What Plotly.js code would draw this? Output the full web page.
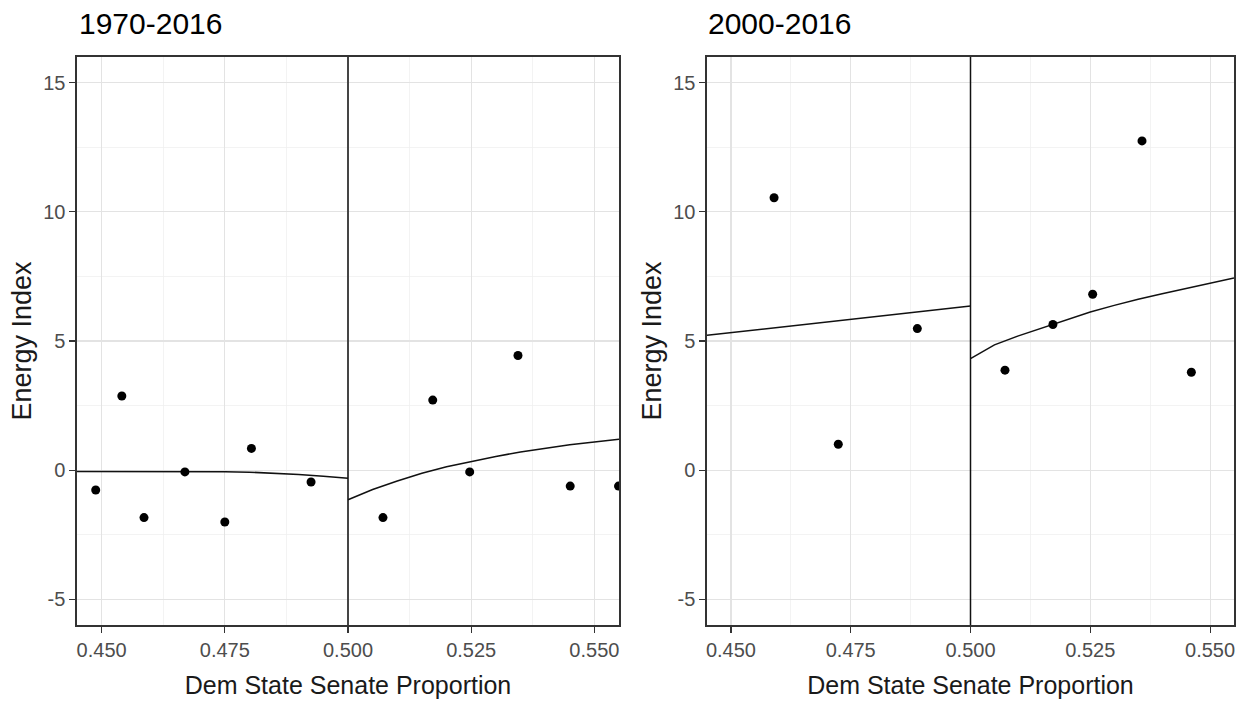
<!DOCTYPE html>
<html>
<head>
<meta charset="utf-8">
<script src="https://cdn.plot.ly/plotly-3.0.1.min.js"></script>
<style>
  html, body { margin: 0; padding: 0; background: #ffffff; }
  #chart { width: 1244px; height: 704px; }
</style>
</head>
<body>
<div id="chart"></div>
<script>
// Binned means of the energy index by Democratic state senate seat share
const panelTitles = ["1970-2016", "2000-2016"];
const xTitle = "Dem State Senate Proportion";
const yTitle = "Energy Index";
const xTickVals = [0.450, 0.475, 0.500, 0.525, 0.550];
const xTickText = ["0.450", "0.475", "0.500", "0.525", "0.550"];
const xMinorVals = [0.4375, 0.4625, 0.4875, 0.5125, 0.5375, 0.5625];
const yTickVals = [-5, 0, 5, 10, 15];
const yTickText = ["-5", "0", "5", "10", "15"];
const yMinorVals = [-2.5, 2.5, 7.5, 12.5];
const cutoff = 0.5;

// 1970-2016 bins
const binX1 = [0.4488, 0.4541, 0.4586, 0.4669, 0.4750, 0.4804, 0.4925, 0.5071, 0.5172, 0.5247, 0.5345, 0.5451, 0.5549];
const binY1 = [-0.77, 2.87, -1.84, -0.07, -2.01, 0.84, -0.46, -1.84, 2.71, -0.07, 4.44, -0.62, -0.62];

// 1970-2016 fitted curves, below and above the cutoff
const fitX1Low = [0.445, 0.455, 0.465, 0.475, 0.480, 0.485, 0.490, 0.495, 0.500];
const fitY1Low = [-0.05, -0.05, -0.05, -0.06, -0.08, -0.12, -0.17, -0.24, -0.32];
const fitX1High = [0.500, 0.505, 0.510, 0.515, 0.520, 0.525, 0.530, 0.535, 0.540, 0.545, 0.550, 0.555];
const fitY1High = [-1.15, -0.75, -0.42, -0.12, 0.13, 0.34, 0.53, 0.70, 0.85, 0.98, 1.09, 1.19];

// 2000-2016 bins
const binX2 = [0.4590, 0.4724, 0.4889, 0.5072, 0.5172, 0.5255, 0.5358, 0.5461];
const binY2 = [10.55, 1.00, 5.48, 3.87, 5.64, 6.81, 12.75, 3.79];

// 2000-2016 fitted curves
const fitX2Low = [0.445, 0.4725, 0.500];
const fitY2Low = [5.22, 5.79, 6.36];
const fitX2High = [0.500, 0.505, 0.510, 0.515, 0.520, 0.525, 0.530, 0.535, 0.540, 0.545, 0.550, 0.555];
const fitY2High = [4.32, 4.85, 5.20, 5.50, 5.82, 6.12, 6.38, 6.62, 6.83, 7.03, 7.24, 7.44];

const FONT = "Liberation Sans, Arial, sans-serif";
const pointStyle = { color: "#000000", size: 9 };
const fitStyle = { color: "#111111", width: 1.5 };

function points(x, y, xa, ya) {
  return { type: "scatter", mode: "markers", x: x, y: y, xaxis: xa, yaxis: ya,
           marker: pointStyle, hoverinfo: "x+y", showlegend: false };
}
function fit(x, y, xa, ya) {
  return { type: "scatter", mode: "lines", x: x, y: y, xaxis: xa, yaxis: ya,
           line: fitStyle, hoverinfo: "skip", showlegend: false };
}

const data = [
  fit(fitX1Low, fitY1Low, "x", "y"),
  fit(fitX1High, fitY1High, "x", "y"),
  points(binX1, binY1, "x", "y"),
  fit(fitX2Low, fitY2Low, "x2", "y2"),
  fit(fitX2High, fitY2High, "x2", "y2"),
  points(binX2, binY2, "x2", "y2")
];

function xAxis(domain, anchor) {
  return {
    domain: domain, anchor: anchor, range: [0.445, 0.555],
    tickmode: "array", tickvals: xTickVals, ticktext: xTickText,
    ticks: "outside", ticklen: 6, tickwidth: 1.1, tickcolor: "#333333",
    tickfont: { family: FONT, size: 20, color: "#4d4d4d" },
    showgrid: true, gridcolor: "#e3e3e3", gridwidth: 1.1,
    minor: { tickmode: "array", tickvals: xMinorVals, showgrid: true, gridcolor: "#eeeeee", gridwidth: 0.7, ticks: "" },
    showline: true, linecolor: "#333333", linewidth: 1.6, mirror: true,
    zeroline: false,
    title: { text: xTitle, font: { family: FONT, size: 25, color: "#1a1a1a" }, standoff: 17 }
  };
}
function yAxis(domain, anchor) {
  return {
    domain: domain, anchor: anchor, range: [-6, 16],
    tickmode: "array", tickvals: yTickVals, ticktext: yTickText,
    ticks: "outside", ticklen: 6, tickwidth: 1.1, tickcolor: "#333333",
    tickfont: { family: FONT, size: 20, color: "#4d4d4d" },
    showgrid: true, gridcolor: "#e3e3e3", gridwidth: 1.1,
    minor: { tickmode: "array", tickvals: yMinorVals, showgrid: true, gridcolor: "#eeeeee", gridwidth: 0.7, ticks: "" },
    showline: true, linecolor: "#333333", linewidth: 1.6, mirror: true,
    zeroline: false,
    title: { text: yTitle, font: { family: FONT, size: 27, color: "#1a1a1a" }, standoff: 4 }
  };
}

const yDomain = [79 / 704, 647 / 704];

const layout = {
  width: 1244, height: 704,
  margin: { l: 0, r: 0, t: 0, b: 0 },
  paper_bgcolor: "#ffffff", plot_bgcolor: "#ffffff",
  showlegend: false,
  xaxis: xAxis([77 / 1244, 619 / 1244], "y"),
  yaxis: yAxis(yDomain, "x"),
  xaxis2: xAxis([707 / 1244, 1234 / 1244], "y2"),
  yaxis2: yAxis(yDomain, "x2"),
  shapes: [
    { type: "line", xref: "x", yref: "y domain", x0: cutoff, x1: cutoff, y0: 0, y1: 1,
      line: { color: "#111111", width: 1.5 } },
    { type: "line", xref: "x2", yref: "y2 domain", x0: cutoff, x1: cutoff, y0: 0, y1: 1,
      line: { color: "#111111", width: 1.5 } }
  ],
  annotations: [
    { text: panelTitles[0], xref: "paper", yref: "paper", x: 77 / 1244, y: (704 - 24) / 704,
      xanchor: "left", yanchor: "middle", showarrow: false,
      font: { family: FONT, size: 30, color: "#000000" } },
    { text: panelTitles[1], xref: "paper", yref: "paper", x: 706 / 1244, y: (704 - 24) / 704,
      xanchor: "left", yanchor: "middle", showarrow: false,
      font: { family: FONT, size: 30, color: "#000000" } }
  ]
};

Plotly.newPlot("chart", data, layout, { staticPlot: true, displayModeBar: false });
</script>
</body>
</html>
